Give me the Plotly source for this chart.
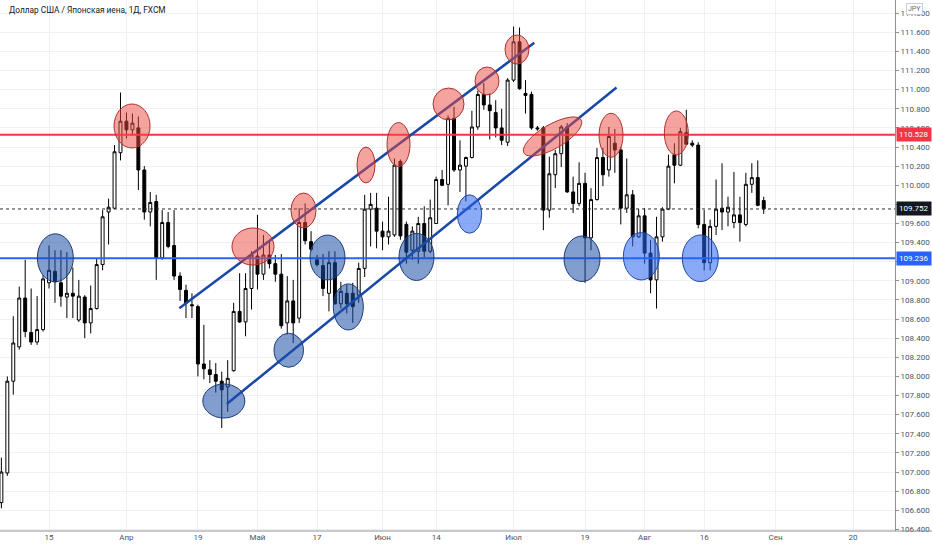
import numpy as np
import plotly.graph_objects as go

# USD/JPY daily candles, 2021-03-03 .. 2021-08-30 (weekdays only)
start_day = "2021-03-03"

opens = [106.68, 106.99, 107.95, 108.31, 108.82, 108.46, 108.36, 108.49, 108.98, 109.10,
         108.98, 108.83, 108.87, 108.59, 108.83, 108.56, 108.71, 109.17, 109.72, 109.76,
         110.34, 110.67, 110.58, 110.60, 110.16, 109.72, 109.83, 109.24, 109.61, 109.37,
         109.05, 108.90, 108.75, 108.73, 108.13, 108.07, 108.02, 107.95, 107.89, 108.06,
         108.68, 108.57, 108.92, 109.26, 109.07, 109.27, 109.18, 109.07, 108.56, 108.79,
         108.61, 109.61, 109.41, 109.22, 109.16, 108.87, 109.19, 108.76, 108.87, 108.87,
         108.85, 109.13, 109.75, 109.76, 109.52, 109.46, 109.48, 110.25, 109.59, 109.32,
         109.31, 109.60, 109.31, 109.60, 110.06, 110.01, 110.70, 110.16, 110.20, 110.29,
         110.61, 110.95, 110.84, 110.76, 110.60, 110.45, 111.10, 111.50, 110.96, 110.95,
         110.60, 110.60, 109.74, 110.11, 110.33, 110.61, 109.93, 109.81, 110.02, 109.45,
         109.85, 110.29, 110.16, 110.44, 110.37, 109.76, 109.90, 109.46, 109.68, 109.29,
         109.01, 109.46, 109.75, 110.32, 110.21, 110.55, 110.44, 110.42, 109.59, 109.19,
         109.57, 109.76, 109.72, 109.61, 109.69, 109.59, 110.01, 110.08, 109.84]
highs = [107.15, 108.00, 108.63, 108.94, 109.22, 108.92, 108.84, 109.06, 109.37, 109.32,
         109.32, 109.30, 109.14, 109.01, 108.85, 108.95, 109.23, 109.74, 109.86, 110.42,
         110.97, 110.76, 110.75, 110.72, 110.20, 109.93, 109.90, 109.74, 109.72, 109.74,
         109.09, 108.96, 108.87, 108.75, 108.54, 108.17, 108.14, 108.05, 108.17, 108.77,
         109.08, 109.08, 109.31, 109.69, 109.48, 109.41, 109.27, 109.28, 109.05, 109.01,
         109.76, 109.81, 109.52, 109.27, 109.28, 109.31, 109.31, 108.99, 108.96, 108.98,
         109.19, 109.90, 109.92, 109.92, 109.62, 109.88, 110.28, 110.27, 109.62, 109.57,
         109.67, 109.78, 109.85, 110.09, 110.16, 110.73, 110.82, 110.47, 110.30, 110.78,
         110.99, 111.07, 110.96, 110.89, 110.80, 111.12, 111.66, 111.65, 111.10, 110.98,
         110.62, 110.62, 110.30, 110.37, 110.63, 110.65, 110.09, 110.24, 110.13, 109.97,
         110.39, 110.39, 110.61, 110.59, 110.40, 110.28, 109.95, 109.75, 109.76, 109.43,
         109.67, 109.77, 110.32, 110.44, 110.60, 110.79, 110.47, 110.45, 109.74, 109.64,
         110.06, 110.23, 109.88, 110.14, 109.88, 110.13, 110.23, 110.26, 109.88]
lows = [106.62, 106.96, 107.81, 108.28, 108.41, 108.33, 108.33, 108.47, 108.92, 108.77,
        108.73, 108.61, 108.61, 108.57, 108.40, 108.45, 108.70, 109.11, 109.38, 109.75,
        110.26, 110.49, 110.52, 109.95, 109.64, 109.57, 109.01, 109.22, 109.34, 109.01,
        108.79, 108.61, 108.61, 108.00, 107.97, 107.93, 107.83, 107.46, 107.63, 108.05,
        108.56, 108.42, 108.70, 108.91, 109.01, 109.13, 108.99, 108.50, 108.44, 108.35,
        108.56, 109.38, 109.31, 109.15, 108.84, 108.68, 108.75, 108.71, 108.66, 108.56,
        108.77, 109.04, 109.36, 109.34, 109.32, 109.38, 109.46, 109.43, 109.18, 109.22,
        109.18, 109.25, 109.29, 109.60, 109.99, 109.79, 110.14, 109.93, 109.83, 110.28,
        110.58, 110.79, 110.48, 110.50, 110.42, 110.41, 111.08, 111.00, 110.75, 110.58,
        110.57, 109.53, 109.66, 109.97, 110.19, 109.92, 109.71, 109.78, 108.98, 109.32,
        109.84, 109.99, 110.09, 110.13, 109.59, 109.71, 109.36, 109.45, 109.18, 108.87,
        108.71, 109.41, 109.74, 110.02, 110.20, 110.42, 110.40, 109.55, 109.11, 109.11,
        109.48, 109.53, 109.57, 109.55, 109.41, 109.57, 109.92, 109.78, 109.70]
closes = [107.00, 107.95, 108.35, 108.82, 108.47, 108.36, 108.49, 109.02, 109.11, 108.99,
          108.84, 108.87, 108.84, 108.84, 108.56, 108.71, 109.17, 109.67, 109.77, 110.35,
          110.67, 110.58, 110.65, 110.16, 109.72, 109.82, 109.24, 109.61, 109.36, 109.05,
          108.91, 108.77, 108.74, 108.13, 108.08, 108.02, 107.95, 107.86, 107.98, 108.68,
          108.57, 108.92, 109.27, 109.07, 109.27, 109.18, 109.07, 108.53, 108.79, 108.56,
          109.61, 109.42, 109.33, 109.17, 108.92, 109.19, 108.76, 108.89, 108.76, 108.73,
          109.13, 109.75, 109.80, 109.52, 109.46, 109.52, 110.21, 109.47, 109.30, 109.52,
          109.60, 109.31, 109.66, 110.06, 110.00, 110.70, 110.16, 110.21, 110.29, 110.61,
          110.95, 110.84, 110.78, 110.60, 110.47, 111.10, 111.50, 111.01, 110.94, 110.60,
          110.59, 109.74, 110.12, 110.33, 110.61, 109.93, 109.81, 110.02, 109.45, 109.85,
          110.29, 110.11, 110.51, 110.37, 109.76, 109.90, 109.46, 109.68, 109.29, 109.01,
          109.46, 109.75, 110.20, 110.21, 110.56, 110.43, 110.42, 109.59, 109.19, 109.57,
          109.75, 109.72, 109.77, 109.69, 109.61, 110.01, 110.08, 109.79, 109.752]

# date axis labels (Russian)
tick_dates = ["2021-03-15", "2021-04-01", "2021-04-19", "2021-05-03", "2021-05-17",
              "2021-06-01", "2021-06-14", "2021-07-01", "2021-07-19", "2021-08-02",
              "2021-08-16", "2021-09-01", "2021-09-20"]
tick_text = ["15", "Апр", "19", "Май", "17", "Июн", "14", "Июл", "19", "Авг", "16", "Сен", "20"]

# horizontal levels
resistance = 110.528
support = 109.236
last_price = closes[-1]

# channel lines: (bar index, price) pairs
upper_channel = [(29.88, 108.713), (89.48, 111.491)]
lower_channel = [(37.84, 107.712), (103.28, 111.023)]

# marked touches: (bar index, price, half-width in bars, half-height in price)
red_marks = [(21.94, 110.620, 3.02, 0.230), (42.25, 109.359, 3.53, 0.194),
             (50.73, 109.736, 2.10, 0.183), (61.22, 110.212, 1.51, 0.188),
             (66.68, 110.426, 1.93, 0.230), (75.08, 110.850, 2.60, 0.167),
             (81.54, 111.091, 2.01, 0.146), (86.57, 111.420, 2.01, 0.152),
             (102.36, 110.523, 2.01, 0.230), (113.32, 110.547, 2.01, 0.230)]
red_tilted = (92.54, 110.510)
blue_marks = [(9.06, 109.241, 3.02, 0.251), (37.35, 107.743, 3.53, 0.178),
              (48.25, 108.274, 2.47, 0.178), (54.76, 109.244, 2.94, 0.235),
              (58.25, 108.727, 2.52, 0.241), (69.70, 109.250, 2.94, 0.246),
              (97.49, 109.231, 3.02, 0.238)]
blue_light_marks = [(78.60, 109.699, 2.05, 0.201), (107.45, 109.257, 3.02, 0.248),
                    (117.35, 109.236, 3.02, 0.244)]

W, H = 932, 550
ml, mr, mt, mb = 0, 37, 0, 19
x_range = [-0.23, 150.04]
y_range = [106.383, 111.938]

x_idx = list(range(len(opens)))
tick_vals = [int(np.busday_count(start_day, d)) for d in tick_dates]

fig = go.Figure()
fig.add_trace(go.Candlestick(
    x=x_idx, open=opens, high=highs, low=lows, close=closes,
    increasing=dict(line=dict(color="#000000", width=1), fillcolor="#ffffff"),
    decreasing=dict(line=dict(color="#000000", width=1), fillcolor="#000000"),
    whiskerwidth=0, showlegend=False, hoverinfo="skip"
))

shapes = []
# horizontal lines
shapes.append(dict(type="line", xref="paper", x0=0, x1=1, yref="y", y0=last_price, y1=last_price,
                   line=dict(color="#2a2e39", width=1, dash="dot"), layer="above"))
shapes.append(dict(type="line", xref="paper", x0=0, x1=1, yref="y", y0=resistance, y1=resistance,
                   line=dict(color="#f23645", width=2), layer="above"))
shapes.append(dict(type="line", xref="paper", x0=0, x1=1, yref="y", y0=support, y1=support,
                   line=dict(color="#2962ff", width=2), layer="above"))

# channel
for (xa, ya), (xb, yb) in [upper_channel, lower_channel]:
    shapes.append(dict(type="line", xref="x", yref="y", x0=xa, y0=ya, x1=xb, y1=yb,
                       line=dict(color="#1848a8", width=2.5), layer="above"))


def ellipse(mark, fill, edge):
    cx, cy, rx, ry = mark
    return dict(type="circle", xref="x", yref="y", x0=cx - rx, x1=cx + rx, y0=cy - ry, y1=cy + ry,
                fillcolor=fill, line=dict(color=edge, width=1), layer="above")


red_fill, red_edge = "rgba(236,72,62,0.5)", "#b0302c"
for m in red_marks:
    shapes.append(ellipse(m, red_fill, red_edge))
for m in blue_marks:
    shapes.append(ellipse(m, "rgba(28,78,168,0.55)", "#1d3a78"))
for m in blue_light_marks:
    shapes.append(ellipse(m, "rgba(40,100,240,0.55)", "#2448a8"))

# tilted ellipse along the lower channel line
sx = (W - ml - mr) / (x_range[1] - x_range[0])
sy = (H - mt - mb) / (y_range[1] - y_range[0])
a, b, th = 33, 12, np.radians(30)
t = np.linspace(0, 2 * np.pi, 60)
ex = red_tilted[0] + (a * np.cos(t) * np.cos(th) - b * np.sin(t) * np.sin(th)) / sx
ey = red_tilted[1] + (a * np.cos(t) * np.sin(th) + b * np.sin(t) * np.cos(th)) / sy
path = "M " + " L ".join(f"{u:.4f},{v:.4f}" for u, v in zip(ex, ey)) + " Z"
shapes.append(dict(type="path", xref="x", yref="y", path=path,
                   fillcolor=red_fill, line=dict(color=red_edge, width=1), layer="above"))

# bottom separator under the whole width
shapes.append(dict(type="line", xref="paper", yref="paper", x0=0, x1=1.05, y0=0, y1=0,
                   line=dict(color="#8f929b", width=1)))

annotations = [
    dict(text="Доллар США / Японская иена, 1Д, FXCM", xref="paper", yref="paper",
         x=0.008, y=0.994, xanchor="left", yanchor="top", showarrow=False,
         font=dict(family="Roboto", size=8.3, color="#131722")),
    dict(text="JPY", xref="paper", yref="paper", x=1.012, y=0.995, xanchor="left", yanchor="top",
         showarrow=False, bgcolor="#ffffff", bordercolor="#c9ccd3", borderwidth=1, borderpad=1,
         font=dict(family="Roboto", size=7, color="#6a6d78")),
]
for val, col in [(resistance, "#f23645"), (last_price, "#131722"), (support, "#2962ff")]:
    annotations.append(dict(text=f"{val:.3f}", xref="paper", yref="y", x=1.001, y=val,
                            xanchor="left", yanchor="middle", showarrow=False, bgcolor=col,
                            borderpad=2, font=dict(family="Roboto", size=8, color="#ffffff")))

fig.update_layout(
    width=W, height=H,
    margin=dict(l=ml, r=mr, t=mt, b=mb),
    paper_bgcolor="#ffffff", plot_bgcolor="#ffffff",
    showlegend=False,
    shapes=shapes,
    annotations=annotations,
    xaxis=dict(range=x_range, tickvals=tick_vals, ticktext=tick_text, showgrid=True,
               gridcolor="#eef0f4", zeroline=False, showline=False, ticks="",
               rangeslider=dict(visible=False),
               tickfont=dict(family="Roboto", size=8, color="#50535e")),
    yaxis=dict(range=y_range, side="right", tick0=106.4, dtick=0.2, tickformat=".3f",
               showgrid=True, gridcolor="#eef0f4", zeroline=False,
               showline=True, linecolor="#8f929b", linewidth=1,
               ticks="outside", ticklen=3, tickcolor="#8f929b",
               tickfont=dict(family="Roboto", size=8, color="#50535e")),
)

fig.write_html("out.html", config={"displayModeBar": False},
               post_script="document.body.style.margin='0';")
